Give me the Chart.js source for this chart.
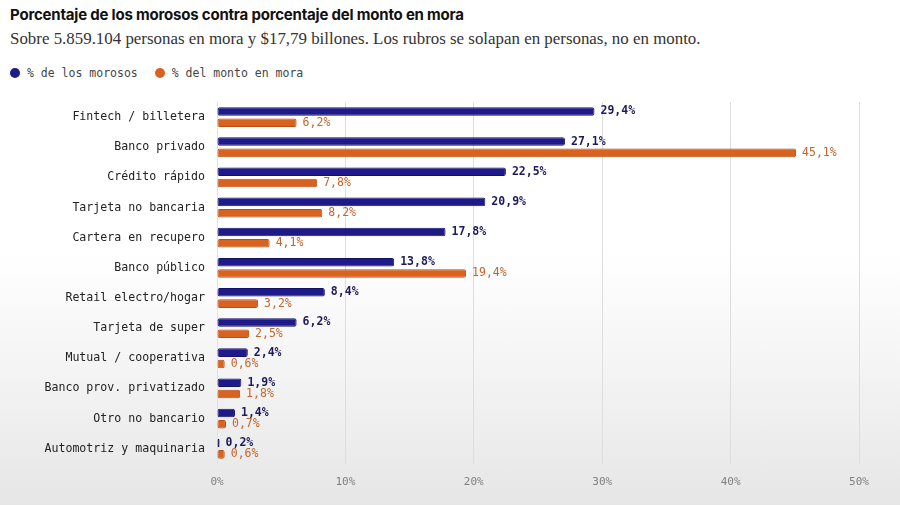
<!DOCTYPE html>
<html lang="es">
<head>
<meta charset="utf-8">
<title>Morosos vs monto en mora</title>
<script src="https://cdn.jsdelivr.net/npm/chart.js@4.4.1/dist/chart.umd.min.js"></script>
<style>
  html, body { margin: 0; padding: 0; }
  body {
    width: 900px; height: 505px; overflow: hidden; position: relative;
    background: linear-gradient(to bottom, #ffffff 0%, #ffffff 50%, #f3f3f3 75%, #e6e6e6 100%);
  }
  #titulo {
    position: absolute; left: 10px; top: 5px;
    font-family: Inter, "Liberation Sans", sans-serif; font-weight: 700;
    font-size: 15px; color: #111; letter-spacing: -0.2px;
  }
  #bajada {
    position: absolute; left: 10px; top: 29px;
    font-family: "Liberation Serif", "DejaVu Serif", serif;
    font-size: 16.9px; color: #333;
  }
  #leyenda {
    position: absolute; left: 10px; top: 66px;
    font-family: "DejaVu Sans Mono", monospace; font-size: 11.5px; color: #444;
  }
  #leyenda span.dot {
    display: inline-block; width: 10px; height: 10px; border-radius: 50%;
    vertical-align: -1px; margin-right: 7px;
  }
  #leyenda span.item { margin-right: 10px; }
  #contenedor { position: absolute; left: 0; top: 83px; width: 900px; height: 434px; }
</style>
</head>
<body>
<div id="titulo">Porcentaje de los morosos contra porcentaje del monto en mora</div>
<div id="bajada">Sobre 5.859.104 personas en mora y $17,79 billones. Los rubros se solapan en personas, no en monto.</div>
<div id="leyenda">
  <span class="item"><span class="dot" style="background:#1f1a8a"></span>% de los morosos</span>
  <span class="item"><span class="dot" style="background:#d9621f"></span>% del monto en mora</span>
</div>
<div id="contenedor"><canvas id="grafico"></canvas></div>

<script>
"use strict";

// Datos del gráfico
const rubros = [
    "Fintech / billetera",
    "Banco privado",
    "Crédito rápido",
    "Tarjeta no bancaria",
    "Cartera en recupero",
    "Banco público",
    "Retail electro/hogar",
    "Tarjeta de super",
    "Mutual / cooperativa",
    "Banco prov. privatizado",
    "Otro no bancario",
    "Automotriz y maquinaria"
];
const pctMorosos = [29.4, 27.1, 22.5, 20.9, 17.8, 13.8, 8.4, 6.2, 2.4, 1.9, 1.4, 0.2];
const pctMonto = [6.2, 45.1, 7.8, 8.2, 4.1, 19.4, 3.2, 2.5, 0.6, 1.8, 0.7, 0.6];
const ticksX = [0, 10, 20, 30, 40, 50];

const mono = "'DejaVu Sans Mono', monospace";

// Formatea con coma decimal
function formato(v) {
    return v.toFixed(1).replace(".", ",") + "%";
}

// Plugin que escribe el valor al final de cada barra
const etiquetas = {
    id: "etiquetas",
    afterDatasetsDraw(chart) {
        const ctx = chart.ctx;
        ctx.save();
        ctx.textBaseline = "middle";
        ctx.textAlign = "left";
        chart.data.datasets.forEach((ds, i) => {
            const meta = chart.getDatasetMeta(i);
            ctx.font = (i === 0 ? "bold " : "") + "11.5px " + mono;
            ctx.fillStyle = i === 0 ? "#1c1a5c" : "#c2652e";
            meta.data.forEach((bar, j) => {
                ctx.fillText(formato(ds.data[j]), bar.x + 6, bar.y);
            });
        });
        ctx.restore();
    }
};

const ctx = document.getElementById("grafico");

new Chart(ctx, {
    type: "bar",
    data: {
        labels: rubros,
        datasets: [{
            label: "% de los morosos",
            data: pctMorosos,
            backgroundColor: "#1f1a8a",
            borderColor: "#15116a",
            borderWidth: 1,
            borderRadius: 2,
            borderSkipped: false,
            categoryPercentage: 0.75,
            barPercentage: 0.76
        }, {
            label: "% del monto en mora",
            data: pctMonto,
            backgroundColor: "#d9621f",
            borderColor: "#b94d12",
            borderWidth: 1,
            borderRadius: 2,
            borderSkipped: false,
            categoryPercentage: 0.75,
            barPercentage: 0.76
        }]
    },
    options: {
        indexAxis: "y",
        responsive: true,
        maintainAspectRatio: false,
        animation: false,
        layout: { padding: { top: 19, right: 41, bottom: 16, left: 0 } },
        plugins: {
            legend: { display: false },
            tooltip: { enabled: false }
        },
        scales: {
            x: {
                min: 0,
                max: 50,
                afterBuildTicks(scale) {
                    scale.ticks = ticksX.map(v => ({ value: v }));
                },
                grid: { color: "#dedede", drawTicks: false },
                border: { display: false },
                ticks: {
                    padding: 12,
                    color: "#808080",
                    font: { family: mono, size: 11 },
                    callback: v => v + "%"
                }
            },
            y: {
                grid: { display: false },
                border: { display: true, color: "#e2e2e2" },
                afterFit(scale) { scale.width = 217; },
                ticks: {
                    padding: 4,
                    color: "#222",
                    font: { family: mono, size: 11.6 }
                }
            }
        }
    },
    plugins: [etiquetas]
});
</script>
</body>
</html>
